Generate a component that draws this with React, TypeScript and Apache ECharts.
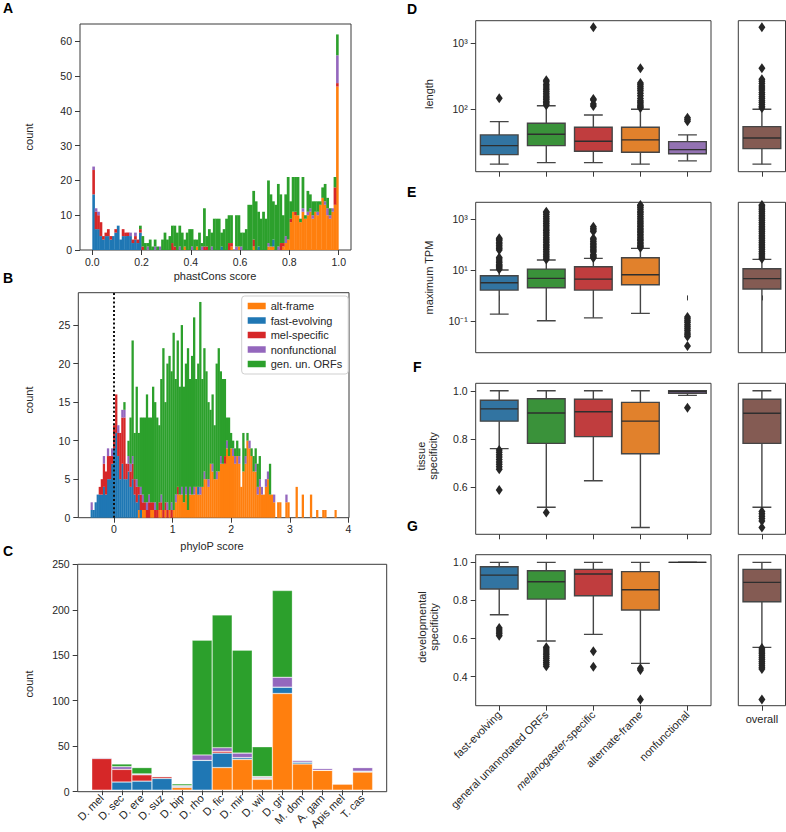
import React, { useEffect, useRef } from 'react';
import * as echarts from 'echarts';

const FONT = 'Liberation Sans, Arial, Helvetica, sans-serif';
const TXT = '#262626';
const FRAME = '#3a3a3a';
const BOX_LINE = '#454545';
const OUT_COLOR = '#262626';

const GROUPS = ['alt-frame', 'fast-evolving', 'mel-specific', 'nonfunctional', 'gen. un. ORFs'];
const GROUP_COLORS = ['#ff7f0e', '#1f77b4', '#d62728', '#9467bd', '#2ca02c'];

// ---------- Panel A: phastCons histogram (100 bins of 0.01 from 0 to 1) ----------
const phastBinStart = 0;
const phastBinWidth = 0.01;
const phastXTicks = [0, 0.2, 0.4, 0.6, 0.8, 1.0];
const phastYTicks = [0, 10, 20, 30, 40, 50, 60];
const phastAlt = [
  0, 0, 0, 0, 0, 0, 0, 0, 0, 0,
  0, 0, 0, 0, 0, 0, 0, 0, 0, 0,
  0, 0, 0, 0, 0, 0, 0, 0, 0, 0,
  0, 0, 0, 0, 0, 0, 0, 1, 0, 0,
  0, 0, 1, 0, 0, 0, 0, 0, 0, 0,
  0, 0, 0, 0, 0, 0, 1, 0, 0, 1,
  0, 0, 0, 0, 0, 1, 0, 0, 0, 0,
  0, 1, 1, 1, 0, 0, 0, 1, 2, 3,
  8, 11, 10, 10, 8, 11, 9, 10, 11, 9,
  11, 10, 13, 15, 13, 10, 9, 11, 13, 47,
];
const phastFast = [
  16, 6, 6, 4, 3, 4, 4, 3, 4, 5,
  7, 3, 4, 4, 4, 4, 2, 3, 2, 5,
  0, 0, 0, 0, 0, 0, 0, 0, 0, 0,
  0, 0, 0, 0, 0, 0, 0, 0, 0, 0,
  0, 0, 0, 0, 0, 0, 0, 0, 0, 0,
  0, 0, 1, 0, 0, 0, 0, 0, 0, 0,
  0, 0, 0, 0, 0, 0, 0, 1, 0, 0,
  0, 0, 0, 2, 0, 0, 0, 0, 0, 0,
  0, 0, 0, 0, 0, 0, 0, 0, 0, 0,
  0, 0, 0, 0, 0, 0, 0, 0, 0, 0,
];
const phastMel = [
  7, 5, 4, 4, 1, 1, 2, 1, 0, 1,
  0, 0, 2, 1, 1, 0, 1, 1, 1, 1,
  1, 0, 0, 0, 0, 0, 0, 0, 0, 0,
  0, 0, 2, 1, 0, 0, 0, 0, 0, 0,
  0, 0, 0, 0, 0, 1, 1, 0, 0, 0,
  0, 0, 0, 0, 0, 2, 1, 0, 0, 0,
  0, 0, 0, 0, 0, 2, 0, 0, 0, 0,
  0, 0, 0, 0, 0, 0, 2, 1, 0, 0,
  1, 0, 1, 0, 0, 0, 0, 0, 0, 0,
  0, 0, 0, 0, 0, 0, 0, 0, 5, 1,
];
const phastNonf = [
  1, 1, 1, 0, 0, 0, 0, 0, 0, 0,
  0, 0, 0, 0, 0, 1, 0, 1, 0, 0,
  0, 0, 1, 0, 0, 1, 0, 1, 0, 0,
  0, 0, 0, 0, 0, 1, 0, 0, 0, 0,
  1, 0, 0, 0, 1, 0, 0, 0, 1, 0,
  0, 0, 0, 0, 0, 0, 0, 0, 1, 0,
  1, 0, 0, 0, 0, 0, 0, 0, 0, 0,
  0, 1, 0, 0, 0, 1, 0, 0, 2, 0,
  0, 0, 0, 0, 0, 1, 0, 1, 1, 1,
  0, 1, 0, 0, 1, 2, 1, 1, 0, 8,
];
const phastGen = [
  0, 0, 0, 0, 0, 0, 0, 0, 0, 0,
  0, 0, 0, 0, 0, 0, 0, 0, 0, 1,
  3, 2, 1, 3, 1, 2, 1, 0, 3, 5,
  3, 4, 5, 6, 5, 6, 5, 2, 5, 6,
  5, 3, 2, 5, 1, 11, 3, 6, 4, 9,
  9, 9, 4, 6, 9, 8, 8, 0, 9, 9,
  4, 5, 6, 13, 13, 14, 14, 10, 9, 11,
  9, 18, 15, 11, 13, 18, 14, 8, 12, 18,
  5, 10, 10, 11, 1, 9, 1, 6, 4, 4,
  3, 3, 1, 3, 5, 3, 2, 0, 3, 6,
];

// ---------- Panel B: phyloP histogram (120 bins of 0.035 from -0.4) ----------
const phyloBinStart = -0.4;
const phyloBinWidth = 0.035;
const phyloXTicks = [0, 1, 2, 3, 4];
const phyloYTicks = [0, 5, 10, 15, 20, 25];
const phyloAlt = [
  0, 0, 0, 0, 0, 0, 0, 0, 0, 0,
  0, 0, 0, 0, 0, 0, 0, 0, 0, 0,
  0, 0, 0, 1, 0, 1, 1, 0, 0, 1,
  1, 0, 0, 1, 1, 0, 1, 0, 1, 0,
  1, 2, 3, 3, 3, 2, 3, 1, 3, 3,
  3, 4, 3, 3, 4, 5, 5, 4, 7, 6,
  5, 5, 6, 7, 7, 7, 9, 8, 9, 8,
  7, 8, 7, 4, 6, 7, 10, 9, 8, 6,
  6, 3, 4, 3, 3, 4, 5, 3, 3, 2,
  0, 2, 2, 0, 0, 2, 2, 0, 0, 0,
  4, 0, 0, 3, 0, 0, 0, 3, 0, 0,
  1, 0, 0, 1, 1, 0, 0, 0, 0, 1,
];
const phyloFast = [
  1, 1, 2, 3, 3, 3, 4, 3, 5, 5,
  7, 9, 11, 8, 5, 7, 5, 5, 6, 4,
  5, 3, 2, 2, 1, 0, 0, 0, 0, 0,
  0, 0, 0, 0, 0, 0, 0, 0, 0, 0,
  0, 0, 0, 0, 0, 0, 0, 0, 0, 0,
  0, 0, 1, 0, 0, 0, 0, 0, 0, 0,
  0, 0, 0, 0, 0, 0, 0, 0, 0, 0,
  0, 0, 0, 0, 0, 0, 0, 0, 0, 0,
  0, 0, 0, 0, 0, 0, 0, 0, 0, 0,
  0, 0, 0, 0, 0, 0, 0, 0, 0, 0,
  0, 0, 0, 0, 0, 0, 0, 0, 0, 0,
  0, 0, 0, 0, 0, 0, 0, 0, 0, 0,
];
const phyloMel = [
  0, 0, 0, 0, 1, 2, 3, 3, 3, 3,
  1, 3, 5, 3, 6, 6, 8, 2, 1, 2,
  2, 2, 2, 1, 2, 1, 1, 1, 2, 1,
  1, 1, 1, 1, 1, 1, 1, 1, 0, 1,
  0, 0, 1, 0, 0, 0, 0, 0, 0, 0,
  0, 0, 0, 0, 0, 0, 0, 0, 0, 0,
  0, 0, 0, 0, 0, 1, 0, 0, 0, 0,
  0, 0, 0, 0, 0, 0, 0, 0, 0, 0,
  0, 0, 0, 0, 0, 0, 0, 0, 0, 0,
  0, 0, 0, 0, 0, 0, 0, 0, 0, 0,
  0, 0, 0, 0, 0, 0, 0, 0, 0, 0,
  0, 0, 0, 0, 0, 0, 0, 0, 0, 0,
];
const phyloNonf = [
  1, 0, 0, 0, 0, 0, 1, 0, 1, 0,
  1, 0, 0, 1, 0, 1, 1, 0, 1, 1,
  1, 0, 1, 0, 1, 1, 0, 1, 1, 0,
  0, 1, 0, 0, 1, 0, 0, 1, 0, 1,
  0, 1, 0, 0, 1, 0, 1, 0, 1, 0,
  1, 0, 0, 1, 0, 1, 0, 1, 0, 1,
  0, 1, 0, 1, 0, 0, 1, 0, 0, 1,
  1, 0, 1, 0, 0, 1, 0, 1, 0, 0,
  1, 1, 1, 1, 0, 1, 1, 0, 0, 1,
  0, 0, 0, 0, 0, 1, 0, 0, 0, 0,
  0, 0, 0, 0, 0, 0, 0, 0, 0, 0,
  0, 0, 0, 0, 0, 0, 0, 0, 0, 0,
];
const phyloGen = [
  0, 0, 0, 0, 0, 0, 0, 0, 0, 0,
  0, 0, 0, 0, 0, 0, 1, 0, 2, 6,
  15, 6, 12, 7, 9, 10, 11, 14, 10, 11,
  15, 13, 12, 10, 15, 21, 13, 18, 20, 17,
  23, 15, 19, 14, 21, 15, 16, 21, 14, 18,
  22, 14, 16, 24, 14, 16, 14, 10, 7, 9,
  7, 14, 16, 11, 11, 10, 3, 5, 2, 1,
  1, 2, 1, 0, 5, 1, 1, 0, 1, 2,
  2, 3, 3, 0, 0, 0, 0, 4, 0, 0,
  0, 0, 0, 0, 0, 0, 0, 0, 0, 0,
  0, 0, 0, 0, 0, 0, 0, 0, 0, 0,
  0, 0, 0, 0, 0, 0, 0, 0, 0, 0,
];

// ---------- Panel C: species counts ----------
const species = ['D. mel', 'D. sec', 'D. ere', 'D. suz', 'D. bip', 'D. rho', 'D. fic', 'D. mir', 'D. wil', 'D. gri', 'M. dom', 'A. gam', 'Apis mel', 'T. cas'];
const spAlt = [0, 0, 0, 0, 3, 0, 25, 34, 12, 107, 29, 22, 7, 20];
const spFast = [0, 9, 10, 13, 1, 33, 16, 2, 1, 7, 2, 0, 0, 1];
const spMel = [35, 14, 7, 2, 0, 0, 2, 0, 1, 0, 0, 0, 0, 0];
const spNonf = [1, 3, 1, 0, 1, 6, 4, 5, 1, 11, 2, 2, 0, 4];
const spGen = [0, 3, 7, 0, 2, 127, 147, 114, 33, 96, 0, 0, 0, 0];
const countYTicks = [0, 50, 100, 150, 200, 250];

// ---------- Panels D-G: box plots ----------
const boxCats = ['fast-evolving', 'general unannotated ORFs', 'melanogaster-specific', 'alternate-frame', 'nonfunctional'];
const boxColors = ['#3274a1', '#3a923a', '#c03d3e', '#e1812c', '#9372b2'];
const overallColor = '#845b53';

// [lower whisker, Q1, median, Q3, upper whisker]
const lengthStats = [
  [14.7, 20.5, 28.1, 40.8, 65],
  [15.5, 28.1, 41.8, 61.4, 113],
  [15.5, 23.1, 32.7, 53.4, 82],
  [14.7, 22.3, 34.3, 53.4, 100],
  [16.5, 21.2, 24.4, 32.3, 40.8],
];
const lengthOverall = [14.7, 25.3, 36.7, 54.5, 100];
const lengthOutliers = [
  [147],
  [115, 120, 126, 132, 140, 148, 155, 165, 175, 185, 198, 210, 225, 240, 260, 275],
  [112, 120, 138, 143, 1750],
  [104, 108, 113, 120, 128, 135, 145, 160, 175, 190, 205, 220, 235, 250, 420],
  [66, 70, 74],
];
const lengthOverallOutliers = [104, 110, 118, 126, 135, 145, 155, 168, 180, 195, 210, 225, 245, 265, 285, 420, 1750];

const tpmStats = [
  [0.183, 1.62, 3.16, 5.97, 10],
  [0.1, 2.0, 4.7, 10.9, 24.8],
  [0.13, 1.62, 4.4, 13.5, 28.9],
  [0.195, 2.63, 6.55, 30.6, 71.8],
  null,
];
const tpmOverall = [0.001, 1.78, 4.6, 11.3, 26.4];
const tpmOutliers = [
  [10.8, 12, 13.5, 15, 17, 20, 23, 27, 31, 62, 70, 82, 95, 110, 125, 145, 165, 178],
  [26, 30, 35, 40, 47, 55, 64, 75, 88, 100, 120, 140, 165, 190, 225, 265, 310, 360, 420, 500, 580, 680, 800, 950, 1100, 1300, 1550, 1800, 2000],
  [30, 33, 37, 41, 52, 58, 66, 75, 86, 100, 115, 135, 155, 178, 330, 380, 440, 510],
  [75, 85, 95, 110, 125, 145, 165, 190, 220, 255, 295, 340, 390, 450, 520, 600, 700, 800, 950, 1100, 1300, 1550, 1800, 2100, 2500, 2900, 3400, 3700],
  [0.14, 0.12, 0.1, 0.085, 0.07, 0.058, 0.048, 0.04, 0.033, 0.028, 0.024, 0.01],
];
const tpmOverallOutliers = [28, 33, 39, 46, 54, 64, 75, 88, 104, 122, 144, 170, 200, 235, 280, 330, 390, 460, 540, 640, 750, 890, 1050, 1240, 1460, 1720, 2030, 2400, 2830, 3340, 3700];

const tissueStats = [
  [0.76, 0.874, 0.925, 0.961, 1.0],
  [0.517, 0.782, 0.908, 0.967, 1.0],
  [0.627, 0.81, 0.913, 0.965, 1.0],
  [0.433, 0.739, 0.874, 0.952, 1.0],
  [0.981, 0.99, 0.997, 1.0, 1.0],
];
const tissueOverall = [0.517, 0.782, 0.907, 0.965, 1.0];
const tissueOutliers = [
  [0.755, 0.745, 0.735, 0.725, 0.715, 0.705, 0.695, 0.685, 0.675, 0.589],
  [0.495],
  [],
  [],
  [0.93],
];
const tissueOverallOutliers = [0.5, 0.49, 0.48, 0.47, 0.46, 0.433];

const devStats = [
  [0.725, 0.86, 0.933, 0.977, 1.0],
  [0.587, 0.807, 0.898, 0.956, 1.0],
  [0.622, 0.825, 0.939, 0.963, 1.0],
  [0.47, 0.75, 0.856, 0.951, 1.0],
  [1.0, 1.0, 1.0, 1.0, 1.0],
];
const devOverall = [0.554, 0.793, 0.895, 0.963, 1.0];
const devOutliers = [
  [0.655, 0.645, 0.635, 0.625, 0.615],
  [0.555, 0.545, 0.535, 0.525, 0.515, 0.505, 0.495, 0.485, 0.475, 0.465, 0.455],
  [0.534, 0.452],
  [0.445, 0.435, 0.281],
  [],
];
const devOverallOutliers = [0.55, 0.54, 0.53, 0.52, 0.51, 0.5, 0.49, 0.48, 0.47, 0.46, 0.45, 0.44, 0.281];

const lengthTicks = [2, 3];
const tpmTicks = [-1, 1, 3];
const tissueTicks = [0.6, 0.8, 1.0];
const devTicks = [0.4, 0.6, 0.8, 1.0];

const SUP: Record<string, string> = { '-': '\u207b', '0': '\u2070', '1': '\u00b9', '2': '\u00b2', '3': '\u00b3' };
const powLabel = (v: number) => '10' + String(Math.round(v)).split('').map((c) => SUP[c] || c).join('');

function buildOption() {
  const grid: any[] = [];
  const xAxis: any[] = [];
  const yAxis: any[] = [];
  const series: any[] = [];
  const addGrid = (g: any) => { grid.push(g); return grid.length - 1; };
  const addX = (a: any) => { xAxis.push(a); return xAxis.length - 1; };
  const addY = (a: any) => { yAxis.push(a); return yAxis.length - 1; };

  const labelStyle = { color: TXT, fontSize: 10.5, fontFamily: FONT };
  const tickLine = { color: FRAME, width: 1 };
  const frameGrid = (f: any) => ({
    left: f.left, top: f.top, width: f.width, height: f.height,
    show: true, borderColor: FRAME, borderWidth: 1, backgroundColor: 'transparent',
  });
  const valAxis = (gridIndex: number, min: number, max: number, ticks: number[], fmt: (v: number) => string, margin: number) => ({
    gridIndex, type: 'value', min, max,
    axisLine: { show: false, onZero: false }, splitLine: { show: false },
    axisTick: { show: true, length: 5, customValues: ticks, lineStyle: tickLine },
    axisLabel: { ...labelStyle, customValues: ticks, formatter: fmt, margin },
  });
  const hiddenVal = (gridIndex: number, min: number, max: number) => ({ gridIndex, type: 'value', min, max, show: false, axisLine: { onZero: false } });

  // ---- histogram panels ----
  const histPanel = (
    frame: any, xMin: number, xMax: number, binStart: number, binWidth: number,
    xTicks: number[], xFmt: (v: number) => string, yMax: number, yTicks: number[],
    data: number[][], stackId: string,
  ) => {
    const gF = addGrid(frameGrid(frame));
    const xF = addX(valAxis(gF, xMin, xMax, xTicks, xFmt, 6));
    const yF = addY(valAxis(gF, 0, yMax, yTicks, (v) => String(v), 8));
    const nBins = data[0].length;
    const dataMin = binStart;
    const dataMax = binStart + nBins * binWidth;
    const px = frame.width / (xMax - xMin);
    const gD = addGrid({ left: frame.left + (dataMin - xMin) * px, top: frame.top, width: (dataMax - dataMin) * px, height: frame.height });
    const binLabels = data[0].map((_, i) => (binStart + i * binWidth).toFixed(3));
    const xD = addX({ gridIndex: gD, type: 'category', data: binLabels, show: false });
    const yD = addY(hiddenVal(gD, 0, yMax));
    data.forEach((d, i) => {
      series.push({
        type: 'bar', name: GROUPS[i], stack: stackId, xAxisIndex: xD, yAxisIndex: yD,
        data: d, barWidth: '112%', barCategoryGap: '0%',
        itemStyle: { color: GROUP_COLORS[i] }, emphasis: { disabled: true }, silent: true,
      });
    });
    return { xF, yF };
  };

  histPanel({ left: 80, top: 24, width: 271, height: 226 }, -0.05, 1.05, phastBinStart, phastBinWidth,
    phastXTicks, (v) => v.toFixed(1), 65, phastYTicks,
    [phastAlt, phastFast, phastMel, phastNonf, phastGen], 'A');

  const b = histPanel({ left: 78.3, top: 292.7, width: 270.7, height: 225 }, -0.61, 4.01, phyloBinStart, phyloBinWidth,
    phyloXTicks, (v) => String(v), 29.2, phyloYTicks,
    [phyloAlt, phyloFast, phyloMel, phyloNonf, phyloGen], 'B');
  series.push({
    type: 'line', name: 'zero', xAxisIndex: b.xF, yAxisIndex: b.yF, data: [[0, 0]],
    showSymbol: false, lineStyle: { opacity: 0 }, silent: true, z: 5,
    markLine: {
      silent: true, symbol: ['none', 'none'], label: { show: false },
      lineStyle: { type: [2, 2.2], color: '#111', width: 2 },
      data: [{ xAxis: 0 }],
    },
  });

  // ---- Panel C ----
  {
    const frame = { left: 77.7, top: 564.3, width: 309, height: 227.4 };
    const xMin = -1.2, xMax = 14.2;
    const gF = addGrid(frameGrid(frame));
    addX({ gridIndex: gF, type: 'value', min: xMin, max: xMax, show: false, axisLine: { onZero: false } });
    addY(valAxis(gF, 0, 250, countYTicks, (v) => String(v), 8));
    const px = frame.width / (xMax - xMin);
    const gD = addGrid({ left: frame.left + (-0.5 - xMin) * px, top: frame.top, width: species.length * px, height: frame.height });
    const xD = addX({
      gridIndex: gD, type: 'category', data: species,
      axisLine: { show: false },
      axisTick: { show: true, alignWithLabel: true, length: 5, lineStyle: tickLine, interval: 0 },
      axisLabel: { ...labelStyle, fontSize: 11, rotate: 45, margin: 6, interval: 0 },
    });
    const yD = addY(hiddenVal(gD, 0, 250));
    [spAlt, spFast, spMel, spNonf, spGen].forEach((d, i) => {
      series.push({
        type: 'bar', name: GROUPS[i], stack: 'C', xAxisIndex: xD, yAxisIndex: yD,
        data: d, barWidth: '100%', barCategoryGap: '0%',
        itemStyle: { color: GROUP_COLORS[i], borderColor: 'rgba(255,255,255,0.45)', borderWidth: 0.6 },
        emphasis: { disabled: true }, silent: true,
      });
    });
  }

  // ---- box plot panels ----
  const makeBoxRender = (colors: string[]) => (params: any, api: any) => {
    const ci = api.value(0);
    const pts = [1, 2, 3, 4, 5].map((d) => api.coord([ci, api.value(d)]));
    const cx = pts[0][0];
    const band = api.size([1, 0])[0];
    const bw = band * 0.8;
    const cw = bw * 0.5;
    const ls = { stroke: BOX_LINE, lineWidth: 1.4 };
    return {
      type: 'group',
      children: [
        { type: 'line', shape: { x1: cx, y1: pts[0][1], x2: cx, y2: pts[1][1] }, style: ls },
        { type: 'line', shape: { x1: cx, y1: pts[3][1], x2: cx, y2: pts[4][1] }, style: ls },
        { type: 'line', shape: { x1: cx - cw / 2, y1: pts[0][1], x2: cx + cw / 2, y2: pts[0][1] }, style: ls },
        { type: 'line', shape: { x1: cx - cw / 2, y1: pts[4][1], x2: cx + cw / 2, y2: pts[4][1] }, style: ls },
        { type: 'rect', shape: { x: cx - bw / 2, y: pts[3][1], width: bw, height: pts[1][1] - pts[3][1] }, style: { fill: colors[ci] || colors[0], stroke: BOX_LINE, lineWidth: 1.4 } },
        { type: 'line', shape: { x1: cx - bw / 2, y1: pts[2][1], x2: cx + bw / 2, y2: pts[2][1] }, style: { stroke: '#2e2e2e', lineWidth: 1.4 } },
      ],
    };
  };

  const boxPanel = (
    top: number, height: number, yMin: number, yMax: number, ticks: number[], fmt: (v: number) => string,
    stats: (number[] | null)[], outs: number[][], oStats: number[], oOuts: number[], tf: (v: number) => number, showLabels: boolean,
  ) => {
    const main = { left: 475.7, top, width: 235.3, height };
    const ov = { left: 738.3, top, width: 47.2, height };
    const g = addGrid(frameGrid(main));
    const x = addX({
      gridIndex: g, type: 'category', data: boxCats,
      axisLine: { show: false },
      axisTick: { show: true, alignWithLabel: true, length: 5, lineStyle: tickLine, interval: 0 },
      axisLabel: showLabels ? {
        ...labelStyle, fontSize: 11, rotate: 45, margin: 7, interval: 0,
        formatter: (v: string) => (v === 'melanogaster-specific' ? '{i|melanogaster}-specific' : v),
        rich: { i: { fontStyle: 'italic', fontSize: 11, fontFamily: FONT, color: TXT } },
      } : { show: false },
    });
    const y = addY(valAxis(g, yMin, yMax, ticks, fmt, 8));
    const boxData: any[] = [];
    stats.forEach((s, i) => { if (s) boxData.push([i, ...s.map(tf)]); });
    series.push({
      type: 'custom', xAxisIndex: x, yAxisIndex: y, renderItem: makeBoxRender(boxColors),
      encode: { x: 0, y: [1, 2, 3, 4, 5] }, data: boxData, clip: true, z: 2, silent: true,
    });
    const outData: any[] = [];
    outs.forEach((arr, i) => arr.forEach((v) => outData.push([i, tf(v)])));
    series.push({
      type: 'scatter', xAxisIndex: x, yAxisIndex: y, data: outData, symbol: 'diamond', symbolSize: [7, 10],
      itemStyle: { color: OUT_COLOR, opacity: 1 }, z: 3, silent: true,
    });

    const g2 = addGrid(frameGrid(ov));
    const x2 = addX({
      gridIndex: g2, type: 'category', data: ['overall'],
      axisLine: { show: false },
      axisTick: { show: true, alignWithLabel: true, length: 5, lineStyle: tickLine },
      axisLabel: showLabels ? { ...labelStyle, fontSize: 11, margin: 8 } : { show: false },
    });
    const y2 = addY(hiddenVal(g2, yMin, yMax));
    series.push({
      type: 'custom', xAxisIndex: x2, yAxisIndex: y2, renderItem: makeBoxRender([overallColor]),
      encode: { x: 0, y: [1, 2, 3, 4, 5] }, data: [[0, ...oStats.map(tf)]], clip: true, z: 2, silent: true,
    });
    series.push({
      type: 'scatter', xAxisIndex: x2, yAxisIndex: y2, data: oOuts.map((v) => [0, tf(v)]), symbol: 'diamond', symbolSize: [7, 10],
      itemStyle: { color: OUT_COLOR, opacity: 1 }, z: 3, silent: true,
    });
  };

  const lg = (v: number) => Math.log10(v);
  const id = (v: number) => v;
  boxPanel(20.7, 151, lg(11.3), lg(2200), lengthTicks, powLabel, lengthStats, lengthOutliers, lengthOverall, lengthOverallOutliers, lg, false);
  boxPanel(202.3, 150.4, lg(0.0055), lg(4700), tpmTicks, powLabel, tpmStats, tpmOutliers, tpmOverall, tpmOverallOutliers, lg, false);
  boxPanel(383.3, 151, 0.405, 1.031, tissueTicks, (v) => v.toFixed(1), tissueStats, tissueOutliers, tissueOverall, tissueOverallOutliers, id, false);
  boxPanel(554.7, 151, 0.248, 1.04, devTicks, (v) => v.toFixed(1), devStats, devOutliers, devOverall, devOverallOutliers, id, true);

  const letter = (t: string, x: number, y: number) => ({
    type: 'text', x, y, silent: true,
    style: { text: t, fontSize: 14, fontWeight: 'bold', fontFamily: FONT, fill: '#000', align: 'left', verticalAlign: 'top' },
  });
  const title = (t: string, x: number, y: number, rot: boolean) => ({
    type: 'text', x, y, rotation: rot ? Math.PI / 2 : 0, silent: true,
    style: { text: t, fontSize: 11, fontFamily: FONT, fill: TXT, align: 'center', verticalAlign: 'middle', lineHeight: 12 },
  });

  return {
    animation: false,
    textStyle: { fontFamily: FONT },
    grid, xAxis, yAxis, series,
    legend: {
      show: true, data: GROUPS, orient: 'vertical', left: 241.7, top: 296,
      itemWidth: 18, itemHeight: 6.5, itemGap: 2.5, icon: 'rect', selectedMode: false,
      padding: [4, 6, 4, 6], borderColor: '#cfcfcf', borderWidth: 1, borderRadius: 3,
      backgroundColor: 'rgba(255,255,255,0.8)',
      textStyle: { fontSize: 11, fontFamily: FONT, color: TXT, lineHeight: 12 },
    },
    graphic: [
      letter('A', 3, 1), letter('B', 3, 271), letter('C', 3, 544),
      letter('D', 407, 2), letter('E', 407, 185), letter('F', 413, 360), letter('G', 407, 519),
      title('count', 29.3, 137, true),
      title('count', 29.3, 400, true),
      title('count', 29.3, 684, true),
      title('phastCons score', 215, 276, false),
      title('phyloP score', 212, 545.5, false),
      title('length', 428.5, 94, true),
      title('maximum TPM', 428.5, 277.5, true),
      title('tissue\nspecificity', 427, 456, true),
      title('developmental\nspecificity', 428, 627, true),
    ],
  };
}

export default function App() {
  const ref = useRef<HTMLDivElement>(null);
  useEffect(() => {
    document.body.style.margin = '0';
    const chart = echarts.init(ref.current as HTMLDivElement, null, { renderer: 'svg' });
    chart.setOption(buildOption() as any);
    return () => chart.dispose();
  }, []);
  return <div ref={ref} style={{ width: 786, height: 832 }} />;
}
